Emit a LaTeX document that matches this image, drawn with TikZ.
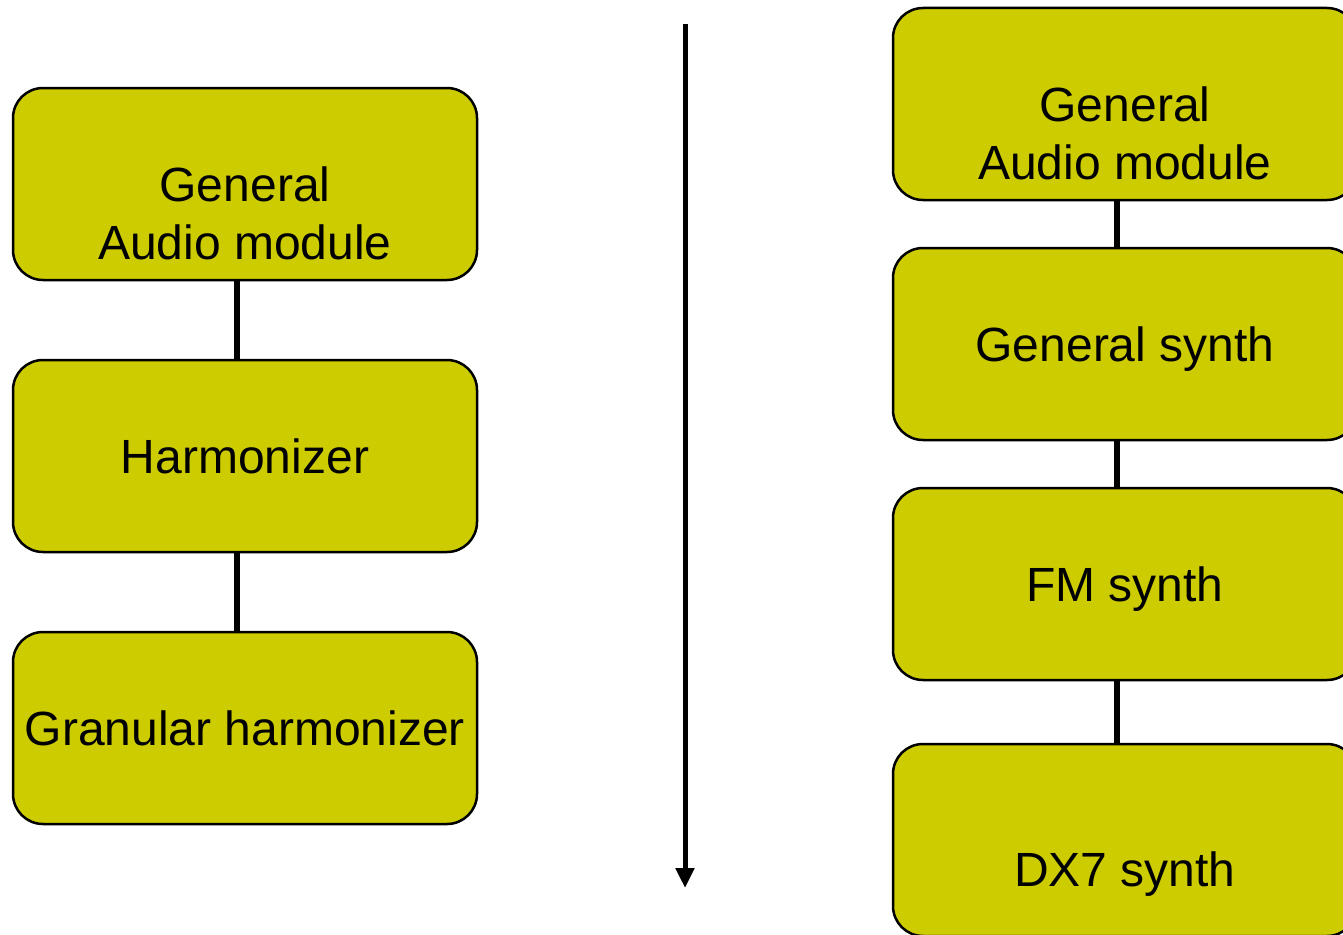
\documentclass[tikz,border=0pt]{standalone}
\usepackage{fontspec}
\setmainfont{Liberation Sans}
\usetikzlibrary{arrows.meta}
\definecolor{boxfill}{HTML}{CCCC00}
\tikzset{
  modbox/.style={draw=black, line width=2.5pt, fill=boxfill, rounded corners=30pt,
    minimum width=464pt, minimum height=192pt, inner sep=0pt, align=center,
    text depth=0pt, font=\fontsize{48}{58}\selectfont, text=black},
  link/.style={line width=6pt, draw=black},
  timearrow/.style={line width=5pt, draw=black, -{Triangle[length=20pt,width=18pt]}}
}
\begin{document}
\begin{tikzpicture}[x=1pt,y=-1pt]
\useasboundingbox (0,0) rectangle (1343,934);
\clip (0,0) rectangle (1343,934);
% left column
\node[modbox] (la) at (245,184) {\strut\\[-6pt]General\\Audio module};
\node[modbox] (lb) at (245,456) {Harmonizer};
\node[modbox] (lc) at (245,728) {Granular harmonizer};
\draw[link] ([xshift=-8pt]la.south) -- ([xshift=-8pt]lb.north);
\draw[link] ([xshift=-8pt]lb.south) -- ([xshift=-8pt]lc.north);
% arrow
\coordinate (as) at (685,24);
\coordinate (ae) at (685,888);
\draw[timearrow] (as) -- (ae);
% right column
\node[modbox] (ra) at (1125,104) {\strut\\[-6pt]General\\Audio module};
\node[modbox] (rb) at (1125,344) {General synth};
\node[modbox] (rc) at (1125,584) {FM synth};
\node[modbox] (rd) at (1125,840) {\strut\\[-6pt]DX7 synth};
\draw[link] ([xshift=-8pt]ra.south) -- ([xshift=-8pt]rb.north);
\draw[link] ([xshift=-8pt]rb.south) -- ([xshift=-8pt]rc.north);
\draw[link] ([xshift=-8pt]rc.south) -- ([xshift=-8pt]rd.north);
\end{tikzpicture}
\end{document}
